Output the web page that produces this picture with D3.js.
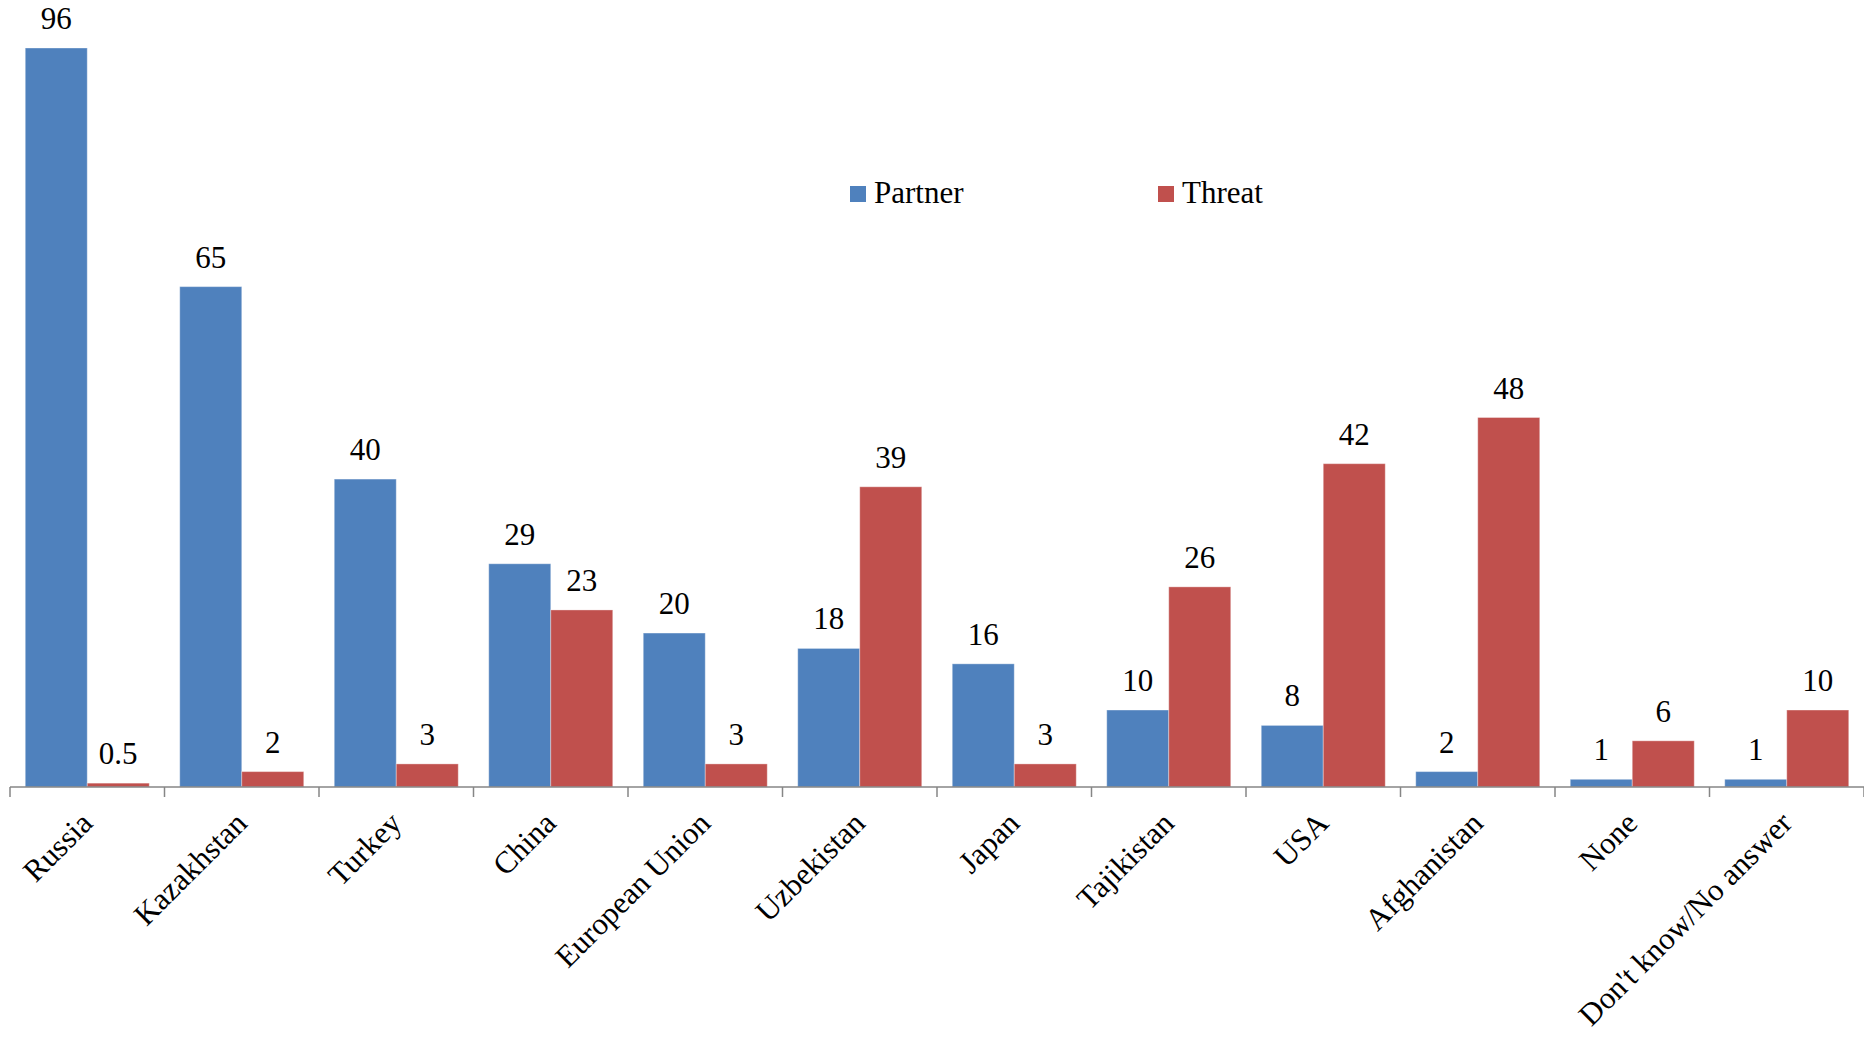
<!DOCTYPE html>
<html lang="en">
<head>
  <meta charset="UTF-8">
  <title>Partners and Threats</title>
  <script src="https://d3js.org/d3.v7.min.js"></script>
  <style>
    body {
      margin: 0;
      background: white;
    }
    svg {
      display: block;
      font-family: "Liberation Serif", "Times New Roman", serif;
    }
  </style>
</head>
<body>
<svg></svg>

<script>
  const categories = ["Russia", "Kazakhstan", "Turkey", "China", "European Union", "Uzbekistan",
    "Japan", "Tajikistan", "USA", "Afghanistan", "None", "Don't know/No answer"];
  const seriesNames = ["Partner", "Threat"];
  const partner = [96, 65, 40, 29, 20, 18, 16, 10, 8, 2, 1, 1];
  const threat = [0.5, 2, 3, 23, 3, 39, 3, 26, 42, 48, 6, 10];

  const colors = { Partner: "#4F81BD", Threat: "#C0504D" };

  const width = 1864;
  const height = 1038;
  const baseY = 787;

  const svg = d3.select("svg")
    .attr("width", width)
    .attr("height", height);

  const rows = categories.map((c, i) => ({ cat: c, Partner: partner[i], Threat: threat[i] }));

  const x0 = d3.scaleBand()
    .domain(categories)
    .range([10, 1864])
    .padding(0);

  const x1 = d3.scaleBand()
    .domain(seriesNames)
    .range([0, x0.bandwidth()])
    .paddingInner(0)
    .paddingOuter(0.246);

  // 96 sits at y=48
  const y = d3.scaleLinear()
    .domain([0, 96])
    .range([baseY, 48]);

  // bars
  const groups = svg.append("g")
    .selectAll("g")
    .data(rows)
    .join("g")
    .attr("transform", d => `translate(${x0(d.cat)},0)`);

  groups.selectAll("rect")
    .data(d => seriesNames.map(k => ({ key: k, value: d[k] })))
    .join("rect")
    .attr("x", d => x1(d.key))
    .attr("y", d => y(d.value))
    .attr("width", x1.bandwidth())
    .attr("height", d => baseY - y(d.value))
    .attr("fill", d => colors[d.key])
    .attr("stroke", "rgba(255,255,255,0.35)")
    .attr("stroke-width", 1);

  // value labels
  groups.selectAll("text")
    .data(d => seriesNames.map(k => ({ key: k, value: d[k] })))
    .join("text")
    .attr("x", d => x1(d.key) + x1.bandwidth() / 2)
    .attr("y", d => y(d.value) - 19)
    .attr("text-anchor", "middle")
    .attr("font-size", 31)
    .attr("fill", "#000")
    .text(d => d.value);

  // category axis
  const axis = svg.append("g");
  axis.append("line")
    .attr("x1", 10).attr("x2", width)
    .attr("y1", baseY).attr("y2", baseY)
    .attr("stroke", "#868686")
    .attr("stroke-width", 1.5);

  const bounds = categories.map(c => x0(c)).concat([x0.range()[1]]);
  axis.selectAll(".tick")
    .data(bounds)
    .join("line")
    .attr("class", "tick")
    .attr("x1", d => d).attr("x2", d => d)
    .attr("y1", baseY).attr("y2", baseY + 10)
    .attr("stroke", "#868686")
    .attr("stroke-width", 1.5);

  axis.selectAll(".lbl")
    .data(categories)
    .join("text")
    .attr("class", "lbl")
    .attr("text-anchor", "end")
    .attr("font-size", 31)
    .attr("transform", d => `translate(${x0(d) + x0.bandwidth() / 2 + 7},${baseY + 38}) rotate(-45)`)
    .text(d => d);

  // legend
  const legend = svg.append("g");
  const legendX = [850, 1158];
  seriesNames.forEach((k, i) => {
    legend.append("rect")
      .attr("x", legendX[i]).attr("y", 186)
      .attr("width", 16).attr("height", 16)
      .attr("fill", colors[k]);
    legend.append("text")
      .attr("x", legendX[i] + 24).attr("y", 203)
      .attr("font-size", 31)
      .text(k);
  });
</script>

</body>
</html>
